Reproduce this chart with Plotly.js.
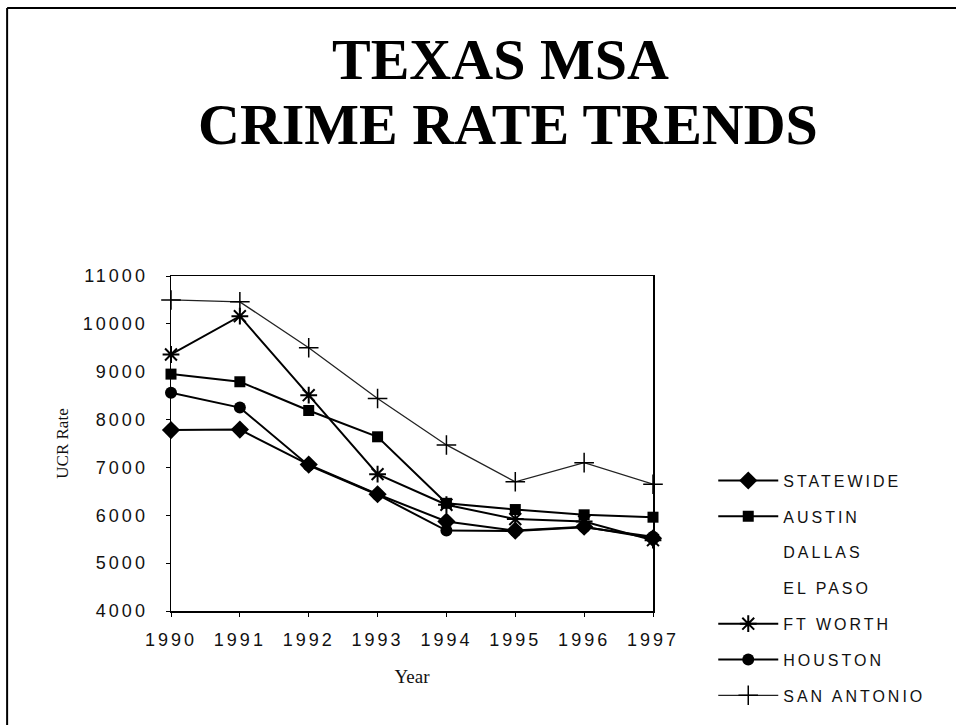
<!DOCTYPE html>
<html>
<head>
<meta charset="utf-8">
<script src="https://cdn.plot.ly/plotly-3.0.1.min.js"></script>
<style>
  html, body { margin: 0; padding: 0; background: #fff; }
  #chart { width: 956px; height: 725px; }
  .xtick text, .ytick text { letter-spacing: 3px; }
  .legendtext { letter-spacing: 3px; }
</style>
</head>
<body>
<div id="chart"></div>
<script>
const years = ['1990', '1991', '1992', '1993', '1994', '1995', '1996', '1997'];
const statewide  = [7780, 7790, 7060, 6440, 5870, 5680, 5760, 5520];
const austin     = [8950, 8790, 8190, 7640, 6250, 6120, 6010, 5960];
const dallas     = [null, null, null, null, null, null, null, null];
const elPaso     = [null, null, null, null, null, null, null, null];
const ftWorth    = [9360, 10160, 8510, 6860, 6220, 5920, 5870, 5480];
const houston    = [8560, 8250, 7040, 6430, 5680, 5670, 5750, 5550];
const sanAntonio = [10500, 10460, 9500, 8440, 7470, 6700, 7100, 6650];

const seriesNames = ['STATEWIDE', 'AUSTIN', 'DALLAS', 'EL PASO', 'FT WORTH', 'HOUSTON', 'SAN ANTONIO'];
const seriesData = [statewide, austin, dallas, elPaso, ftWorth, houston, sanAntonio];
const styles = [
  {marker: {symbol: 'diamond', size: 14, color: '#000'}, line: {color: '#000', width: 2}},
  {marker: {symbol: 'square', size: 11, color: '#000'}, line: {color: '#000', width: 2}},
  {marker: {size: 1, color: 'rgba(0,0,0,0)'}, line: {color: 'rgba(0,0,0,0)', width: 0}},
  {marker: {size: 1, color: 'rgba(0,0,0,0)'}, line: {color: 'rgba(0,0,0,0)', width: 0}},
  {marker: {symbol: 'asterisk-open', size: 14, color: '#000', line: {color: '#000', width: 2}}, line: {color: '#000', width: 2}},
  {marker: {symbol: 'circle', size: 12, color: '#000'}, line: {color: '#000', width: 2}},
  {marker: {symbol: 'cross-thin-open', size: 14, color: '#000', line: {color: '#000', width: 1.5}}, line: {color: '#222', width: 1.3}}
];

const traces = seriesNames.map((name, i) => ({
  type: 'scatter',
  mode: 'lines+markers',
  name: name,
  x: years,
  y: seriesData[i],
  legendgroup: 'g' + i,
  cliponaxis: false,
  marker: styles[i].marker,
  line: styles[i].line
}));

const tickFont = {family: 'Liberation Sans, Arial, sans-serif', size: 18, color: '#111'};
const serif = 'Liberation Serif, Times New Roman, serif';

const layout = {
  width: 956,
  height: 725,
  margin: {l: 171, r: 303, t: 276, b: 114},
  paper_bgcolor: '#fff',
  plot_bgcolor: '#fff',
  showlegend: true,
  legend: {
    x: 1.125, y: 0.44, xanchor: 'left', yanchor: 'top',
    font: {family: 'Liberation Sans, Arial, sans-serif', size: 16, color: '#111'},
    itemwidth: 60,
    tracegroupgap: 12,
    traceorder: 'grouped',
    bgcolor: 'rgba(0,0,0,0)'
  },
  xaxis: {
    type: 'category',
    range: [0, 7],
    showline: true, mirror: true, linecolor: '#000', linewidth: 1.5,
    ticks: 'outside', ticklen: 4, tickcolor: '#000',
    showgrid: false, zeroline: false,
    tickfont: tickFont,
    ticklabelstandoff: 8,
    title: {text: 'Year', font: {family: serif, size: 19, color: '#111'}, standoff: 20}
  },
  yaxis: {
    range: [4000, 11000],
    dtick: 1000,
    tickformat: 'd',
    showline: true, mirror: true, linecolor: '#000', linewidth: 1.5,
    ticks: 'outside', ticklen: 4, tickcolor: '#000',
    showgrid: false, zeroline: false,
    tickfont: tickFont,
    ticklabelstandoff: 14,
    title: {text: 'UCR Rate', font: {family: serif, size: 17, color: '#111'}, standoff: 10}
  },
  annotations: [
    {text: '<b>TEXAS MSA</b>', xref: 'paper', yref: 'paper', x: 0.683, y: 1.645,
     xanchor: 'center', yanchor: 'middle', showarrow: false,
     font: {family: serif, size: 58, color: '#000'}},
    {text: '<b>CRIME RATE TRENDS</b>', xref: 'paper', yref: 'paper', x: 0.700, y: 1.451,
     xanchor: 'center', yanchor: 'middle', showarrow: false,
     font: {family: serif, size: 58, color: '#000'}}
  ],
  shapes: [
    {type: 'line', xref: 'paper', yref: 'paper', x0: -0.340, y0: -0.345, x1: -0.340, y1: 1.800,
     line: {color: '#000', width: 2}},
    {type: 'line', xref: 'paper', yref: 'paper', x0: -0.340, y0: 1.800, x1: 1.64, y1: 1.800,
     line: {color: '#000', width: 2}}
  ]
};

Plotly.newPlot('chart', traces, layout, {displayModeBar: false, staticPlot: true});
</script>
</body>
</html>
